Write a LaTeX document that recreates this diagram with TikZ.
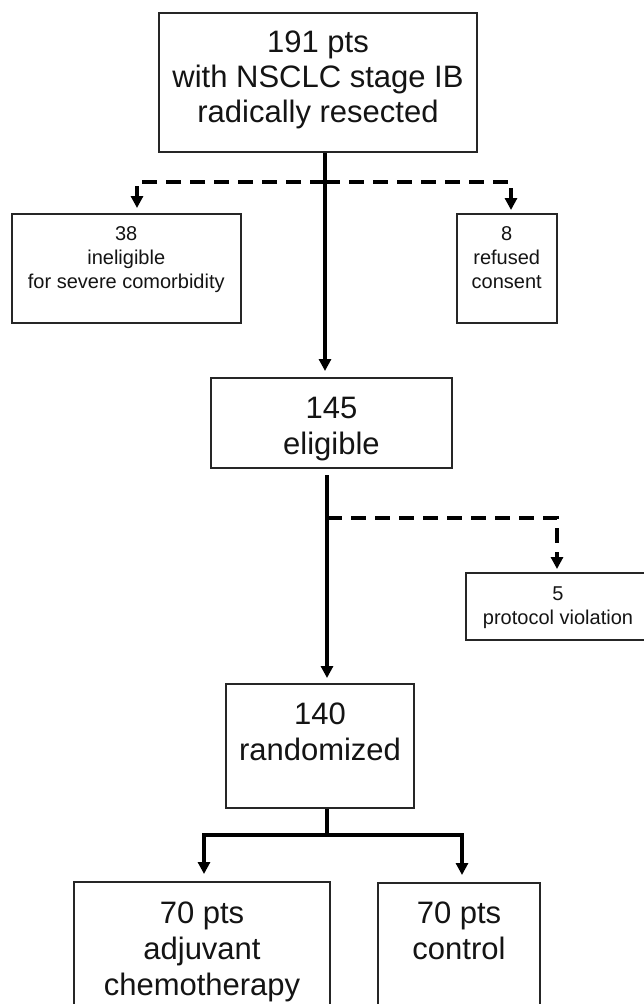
\documentclass[tikz,border=0pt]{standalone}
\usepackage{fontspec}
\setmainfont{Liberation Sans}
\usetikzlibrary{arrows.meta}
\newcommand{\boxtxt}[6]{%
  \parbox[c][#4][t]{#3}{\fontsize{#1}{#2}\selectfont\centering
  \vspace*{\dimexpr #5-0.7\baselineskip\relax}#6\par}}
\tikzset{
  box/.style={draw=black!85, line width=2pt, inner sep=0pt, rectangle, text=black!92},
  conn/.style={line width=3.6pt, draw=black, -{Triangle[length=12pt,width=12pt]}},
  plainline/.style={line width=3.6pt, draw=black},
  dconn/.style={line width=3.6pt, draw=black, dash pattern=on 15pt off 9pt, -{Triangle[length=12pt,width=12pt]}},
}
\begin{document}
\begin{tikzpicture}[x=1pt,y=-1pt]
\path[use as bounding box, fill=white] (0,0) rectangle (643,1004);

\node[box] (top) at (318,82.5) {\boxtxt{31}{35}{318pt}{139pt}{39pt}{\strut 191 pts\\\strut with NSCLC stage IB\\\strut radically resected}};
\node[box] (inel) at (126.25,268.5) {\boxtxt{20}{24}{229.5pt}{109pt}{26pt}{\strut 38\\\strut ineligible\\\strut for severe comorbidity}};
\node[box] (refused) at (506.75,268.5) {\boxtxt{20}{24}{99.5pt}{109pt}{26pt}{\strut 8\\\strut refused\\\strut consent}};
\node[box] (eligible) at (331.5,423) {\boxtxt{31}{36}{241pt}{90pt}{40pt}{\strut 145\\\strut eligible}};
\node[box] (protocol) at (558,606.5) {\boxtxt{20}{24}{184pt}{67pt}{27pt}{\strut 5\\\strut protocol violation}};
\node[box] (rand) at (320,746) {\boxtxt{31}{36}{188pt}{124pt}{40pt}{\strut 140\\\strut randomized}};
\node[box] (chemo) at (202,948.5) {\boxtxt{31}{36}{256pt}{133pt}{41pt}{\strut 70 pts\\\strut adjuvant\\\strut chemotherapy}};
\node[box] (control) at (459,949) {\boxtxt{31}{36}{162pt}{132pt}{40pt}{\strut 70 pts\\\strut control}};

\coordinate (sp1) at (325,182);
\coordinate (dl) at (137,182);
\coordinate (dr) at (511,182);
\draw[conn, shorten >=6pt] (top.south -| sp1) -- (eligible.north -| sp1);
\draw[dconn, shorten >=5pt] (sp1) -- (dl) -- (dl |- inel.north);
\draw[dconn, shorten >=3pt] (sp1) -- (dr) -- (dr |- refused.north);

\coordinate (sp2) at (327,518);
\coordinate (dp) at (557,518);
\draw[conn, shorten <=6pt, shorten >=5pt] (eligible.south -| sp2) -- (rand.north -| sp2);
\draw[dconn, shorten >=3pt] (sp2) -- (dp) -- (dp |- protocol.north);

\coordinate (br) at (327,835);
\coordinate (bl) at (204,835);
\coordinate (bre) at (462,835);
\draw[plainline] (rand.south -| br) -- (br);
\draw[conn, shorten >=7pt] (br) -- (bl) -- (bl |- chemo.north);
\draw[conn, shorten >=7pt] (br) -- (bre) -- (bre |- control.north);
\end{tikzpicture}
\end{document}
